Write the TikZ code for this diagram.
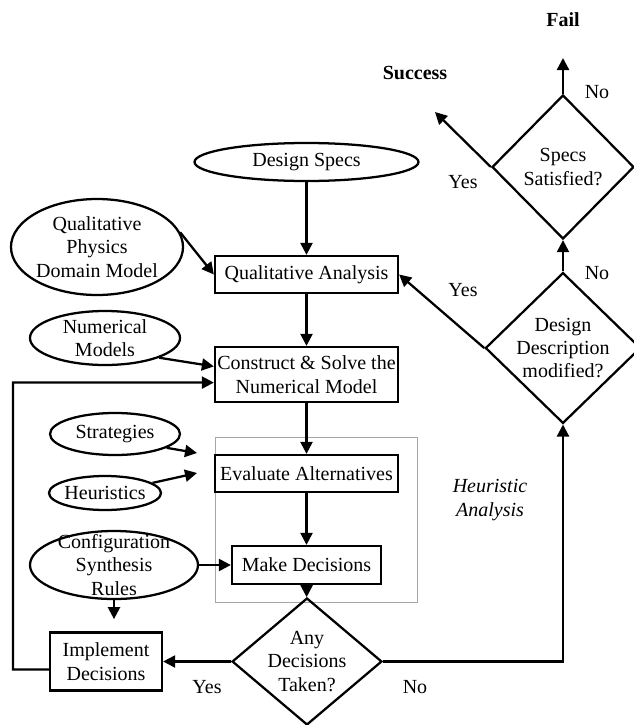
\documentclass[tikz,border=0pt]{standalone}
\usepackage{fontspec}
\setmainfont{Liberation Serif}
\usetikzlibrary{shapes.geometric,arrows.meta}
\newcommand{\tf}{\fontsize{15}{17.5}\selectfont}
\begin{document}
\begin{tikzpicture}[x=0.75pt,y=-0.75pt,
  every node/.style={font=\tf, align=center},
  lw/.style={line width=1.7pt},
  arr/.style={lw,-{Triangle[length=9pt,width=9pt]}},
  boxn/.style={draw,lw,rectangle,inner sep=0.5pt},
  ell/.style={draw,lw,ellipse,inner sep=0pt},
  dia/.style={draw,lw,diamond,inner sep=0pt},
  lab/.style={inner sep=0pt},
  boldlab/.style={inner sep=0pt,font=\tf\bfseries},
  grouprect/.style={draw=gray!70,line width=0.6pt,rectangle,inner sep=0pt}
]
\useasboundingbox (0,0) rectangle (634,725);

% nodes
\node[ell, minimum width=224*0.75pt, minimum height=38*0.75pt] (ds) at (306.5,162) {Design Specs};
\node[boxn, minimum width=183*0.75pt, minimum height=37*0.75pt] (qa) at (306.5,274.5) {Qualitative Analysis};
\node[ell, minimum width=170*0.75pt, minimum height=96*0.75pt] (qp) at (97,247) {Qualitative\\Physics\\Domain Model};
\node[ell, minimum width=150*0.75pt, minimum height=54*0.75pt] (nm) at (105,338) {Numerical\\Models};
\node[boxn, minimum width=183*0.75pt, minimum height=55*0.75pt] (cs) at (306.5,374.5) {Construct \& Solve the\\Numerical Model};
\node[grouprect, minimum width=202*0.75pt, minimum height=165*0.75pt] (hbox) at (316,519.5) {};
\node[boxn, minimum width=183*0.75pt, minimum height=37*0.75pt] (ev) at (306.5,473.5) {Evaluate Alternatives};
\node[boxn, minimum width=149*0.75pt, minimum height=38*0.75pt] (md) at (306.5,565) {Make Decisions};
\node[ell, minimum width=130*0.75pt, minimum height=42*0.75pt] (st) at (115,434) {Strategies};
\node[ell, minimum width=112*0.75pt, minimum height=34*0.75pt, inner xsep=-2pt] (he) at (105,493) {Heuristics};
\node[ell, minimum width=168*0.75pt, minimum height=68*0.75pt, inner ysep=-8pt] (cf) at (114,565) {Configuration\\Synthesis\\Rules};
\node[dia, minimum width=146*0.75pt, minimum height=123*0.75pt, aspect=1.18] (ad) at (307,661.5) {Any\\Decisions\\Taken?};
\node[boxn, minimum width=112*0.75pt, minimum height=58*0.75pt] (im) at (106,661.5) {Implement\\Decisions};
\node[dia, minimum width=146*0.75pt, minimum height=142*0.75pt, aspect=1.03] (dd) at (563,348) {Design\\Description\\modified?};
\node[dia, minimum width=142*0.75pt, minimum height=144*0.75pt, aspect=1] (ss) at (563,167) {Specs\\Satisfied?};

% labels
\node[boldlab] (fail) at (563,20) {Fail};
\node[boldlab] (succ) at (415,73) {Success};
\node[lab, font=\tf\itshape] (heur) at (490,500) {Heuristic\\Analysis};
\node[lab] (no1) at (597,92) {No};
\node[lab] (yes1) at (463,182) {Yes};
\node[lab] (no2) at (597,273) {No};
\node[lab] (yes2) at (463,290) {Yes};
\node[lab] (yes3) at (207,687) {Yes};
\node[lab] (no3) at (415,687) {No};

% free ends
\coordinate (failtip) at (563,58);
\coordinate (succtip) at (435,112);
\coordinate (sa) at (197,453);
\coordinate (ha) at (197,473);
\coordinate (lc) at (13,382.5);

% connectors
\draw[arr] (ds) -- (qa);
\draw[arr] (qp.10) -- (qa.west);
\draw[arr] (qa) -- (cs);
\draw[arr] (nm.-20) -- (cs.175);
\draw[arr] (im.188) -| (lc) -- (cs.185);
\draw[arr] (cs) -- (ev);
\draw[arr] (st.-15) -- (sa);
\draw[arr] (he.12) -- (ha);
\draw[arr] (ev) -- (md);
\draw[arr] (cf.east) -- (md.west);
\draw[arr] (cf.south) -- ++(0,19);
\draw[arr] (md) -- (ad);
\draw[arr] (ad.west) -- (im.east);
\draw[arr] (ad.east) -| (dd.south);
\draw[arr] (dd) -- (ss);
\draw[arr] (ss.north) -- (failtip);
\draw[arr] (ss.west) -- (succtip);
\draw[arr] (dd.west) -- (qa.east);
\end{tikzpicture}
\end{document}
